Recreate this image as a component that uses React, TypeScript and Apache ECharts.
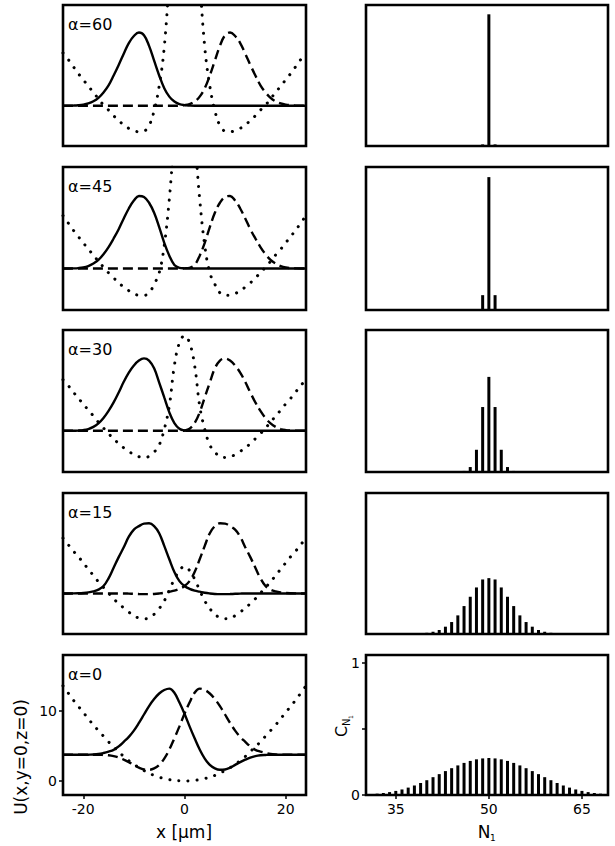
import React, { useEffect, useRef } from "react";
import * as echarts from "echarts";

// ---------- data ----------
const xPositions = [
  -24, -23, -22, -21, -20, -19, -18, -17, -16, -15, -14, -13, -12, -11, -10, -9, -8, -7, -6, -5, -4, -3, -2, -1, 0,
  1, 2, 3, 4, 5, 6, 7, 8, 9, 10, 11, 12, 13, 14, 15, 16, 17, 18, 19, 20, 21, 22, 23, 24,
];

const alphaLabels = ["α=60", "α=45", "α=30", "α=15", "α=0"];

// dotted: potential U(x)
const potential60 = [
  11.2, 10.3, 9.3, 8.3, 7.4, 6.5, 5.6, 4.7, 3.8, 3.1, 2.3, 1.6, 1.0, 0.5, 0.2, 0.0, 0.1, 0.9, 3.0, 6.5, 12, 22, 35, 45, 50,
  45, 35, 22, 12, 6.5, 3.0, 0.9, 0.1, 0.0, 0.2, 0.5, 1.0, 1.6, 2.3, 3.1, 3.8, 4.7, 5.6, 6.5, 7.4, 8.3, 9.3, 10.3, 11.2,
];
const potential45 = [
  11.2, 10.2, 9.2, 8.3, 7.4, 6.5, 5.7, 4.8, 4.0, 3.2, 2.5, 1.8, 1.2, 0.7, 0.3, 0.05, 0.05, 0.4, 1.6, 3.2, 7.0, 13.5, 22, 28, 30,
  28, 22, 13.5, 7.0, 3.2, 1.6, 0.4, 0.05, 0.05, 0.3, 0.7, 1.2, 1.8, 2.5, 3.2, 4.0, 4.8, 5.7, 6.5, 7.4, 8.3, 9.2, 10.2, 11.2,
];
const potential30 = [
  11.0, 10.2, 9.3, 8.4, 7.6, 6.7, 5.9, 5.0, 4.2, 3.4, 2.7, 2.0, 1.4, 0.9, 0.45, 0.15, 0.05, 0.2, 0.8, 1.8, 4.0, 7.3, 13.0, 16.2, 17.2,
  16.2, 13.0, 7.3, 4.0, 1.8, 0.8, 0.2, 0.05, 0.15, 0.45, 0.9, 1.4, 2.0, 2.7, 3.4, 4.2, 5.0, 5.9, 6.7, 7.6, 8.4, 9.3, 10.2, 11.0,
];
const potential15 = [
  11.6, 10.7, 9.8, 9.0, 8.1, 7.2, 6.3, 5.4, 4.6, 3.8, 3.0, 2.3, 1.7, 1.1, 0.6, 0.25, 0.15, 0.3, 0.8, 1.6, 2.7, 4.2, 5.8, 7.0, 7.6,
  7.0, 5.8, 4.2, 2.7, 1.6, 0.8, 0.3, 0.15, 0.25, 0.6, 1.1, 1.7, 2.3, 3.0, 3.8, 4.6, 5.4, 6.3, 7.2, 8.1, 9.0, 9.8, 10.7, 11.6,
];
const potential0 = [
  13.6, 12.6, 11.6, 10.7, 9.8, 8.9, 8.0, 7.2, 6.4, 5.6, 4.9, 4.2, 3.5, 2.9, 2.4, 1.9, 1.5, 1.1, 0.8, 0.55, 0.35, 0.2, 0.1, 0.03, 0,
  0.03, 0.1, 0.2, 0.35, 0.55, 0.8, 1.1, 1.5, 1.9, 2.4, 2.9, 3.5, 4.2, 4.9, 5.6, 6.4, 7.2, 8.0, 8.9, 9.8, 10.7, 11.6, 12.6, 13.6,
];

// solid: left mode
const solid60 = [
  3.7, 3.7, 3.73, 3.78, 3.87, 4.04, 4.34, 4.84, 5.6, 6.6, 8.0, 9.5, 11.1, 12.6, 13.6, 14.1, 13.7, 12.2, 10.1, 8.0, 6.2, 5.0, 4.3, 3.94, 3.79,
  3.73, 3.7, 3.7, 3.7, 3.7, 3.7, 3.7, 3.7, 3.7, 3.7, 3.7, 3.7, 3.7, 3.7, 3.7, 3.7, 3.7, 3.7, 3.7, 3.7, 3.7, 3.7, 3.7, 3.7,
];
const solid45 = [
  3.8, 3.8, 3.82, 3.86, 3.95, 4.15, 4.5, 5.0, 5.8, 6.8, 8.0, 9.3, 10.8, 12.2, 13.3, 13.95, 13.8, 13.0, 11.6, 9.6, 7.4, 5.6, 4.3, 3.9, 3.82,
  3.8, 3.8, 3.8, 3.8, 3.8, 3.8, 3.8, 3.8, 3.8, 3.8, 3.8, 3.8, 3.8, 3.8, 3.8, 3.8, 3.8, 3.8, 3.8, 3.8, 3.8, 3.8, 3.8, 3.8,
];
const solid30 = [
  3.8, 3.8, 3.8, 3.83, 3.9, 4.05, 4.35, 4.85, 5.6, 6.6, 7.8, 9.2, 10.7, 12.0, 13.0, 13.7, 14.0, 13.7, 12.6, 10.6, 8.5, 6.4, 4.9, 4.1, 3.85,
  3.8, 3.8, 3.8, 3.8, 3.8, 3.8, 3.8, 3.8, 3.8, 3.8, 3.8, 3.8, 3.8, 3.8, 3.8, 3.8, 3.8, 3.8, 3.8, 3.8, 3.8, 3.8, 3.8, 3.8,
];
const solid15 = [
  3.75, 3.75, 3.76, 3.78, 3.82, 3.9, 4.05, 4.3, 4.8, 5.9, 7.4, 8.9, 10.3, 11.8, 12.8, 13.3, 13.65, 13.7, 13.3, 12.3, 10.5, 8.6, 6.8, 5.5, 4.8,
  4.4, 4.15, 4.0, 3.85, 3.75, 3.68, 3.65, 3.65, 3.67, 3.7, 3.73, 3.75, 3.75, 3.75, 3.75, 3.75, 3.75, 3.75, 3.75, 3.75, 3.75, 3.75, 3.75, 3.75,
];
const solid0 = [
  3.75, 3.75, 3.75, 3.75, 3.75, 3.76, 3.78, 3.85, 4.0, 4.2, 4.45, 4.95, 5.6, 6.3, 7.2, 8.3, 9.5, 10.7, 11.7, 12.5, 13.0, 13.2, 12.6, 11.2, 9.6,
  7.8, 6.1, 4.5, 3.2, 2.3, 1.8, 1.6, 1.65, 1.9, 2.3, 2.7, 3.05, 3.35, 3.55, 3.67, 3.72, 3.75, 3.75, 3.75, 3.75, 3.75, 3.75, 3.75, 3.75,
];

// dashed: right mode
const dashed60 = [
  3.7, 3.7, 3.7, 3.7, 3.7, 3.7, 3.7, 3.7, 3.7, 3.7, 3.7, 3.7, 3.7, 3.7, 3.7, 3.7, 3.7, 3.7, 3.7, 3.7, 3.7, 3.7, 3.7, 3.73, 3.79,
  3.94, 4.3, 5.0, 6.2, 8.0, 10.1, 12.2, 13.7, 14.1, 13.6, 12.6, 11.1, 9.5, 8.0, 6.6, 5.6, 4.84, 4.34, 4.04, 3.87, 3.78, 3.73, 3.7, 3.7,
];
const dashed45 = [
  3.8, 3.8, 3.8, 3.8, 3.8, 3.8, 3.8, 3.8, 3.8, 3.8, 3.8, 3.8, 3.8, 3.8, 3.8, 3.8, 3.8, 3.8, 3.8, 3.8, 3.8, 3.8, 3.8, 3.8, 3.82,
  3.9, 4.3, 5.6, 7.4, 9.6, 11.6, 13.0, 13.8, 13.95, 13.3, 12.2, 10.8, 9.3, 8.0, 6.8, 5.8, 5.0, 4.5, 4.15, 3.95, 3.86, 3.82, 3.8, 3.8,
];
const dashed30 = [
  3.8, 3.8, 3.8, 3.8, 3.8, 3.8, 3.8, 3.8, 3.8, 3.8, 3.8, 3.8, 3.8, 3.8, 3.8, 3.8, 3.8, 3.8, 3.8, 3.8, 3.8, 3.8, 3.8, 3.8, 3.85,
  4.1, 4.9, 6.4, 8.5, 10.6, 12.6, 13.7, 14.0, 13.7, 13.0, 12.0, 10.7, 9.2, 7.8, 6.6, 5.6, 4.85, 4.35, 4.05, 3.9, 3.83, 3.8, 3.8, 3.8,
];
const dashed15 = [
  3.75, 3.75, 3.75, 3.75, 3.75, 3.75, 3.75, 3.75, 3.75, 3.75, 3.75, 3.75, 3.75, 3.73, 3.7, 3.67, 3.65, 3.65, 3.68, 3.75, 3.85, 4.0, 4.15, 4.4, 4.8,
  5.5, 6.8, 8.6, 10.5, 12.3, 13.3, 13.7, 13.65, 13.3, 12.8, 11.8, 10.3, 8.9, 7.4, 5.9, 4.8, 4.3, 4.05, 3.9, 3.82, 3.78, 3.76, 3.75, 3.75,
];
const dashed0 = [
  3.75, 3.75, 3.75, 3.75, 3.75, 3.75, 3.75, 3.75, 3.72, 3.67, 3.55, 3.35, 3.05, 2.7, 2.3, 1.9, 1.65, 1.6, 1.8, 2.3, 3.2, 4.5, 6.1, 7.8, 9.6,
  11.2, 12.6, 13.2, 13.0, 12.5, 11.7, 10.7, 9.5, 8.3, 7.2, 6.3, 5.6, 4.95, 4.45, 4.2, 4.0, 3.85, 3.78, 3.76, 3.75, 3.75, 3.75, 3.75, 3.75,
];

// right column: occupation amplitudes C_N1
const nValues = [
  31, 32, 33, 34, 35, 36, 37, 38, 39, 40, 41, 42, 43, 44, 45, 46, 47, 48, 49, 50,
  51, 52, 53, 54, 55, 56, 57, 58, 59, 60, 61, 62, 63, 64, 65, 66, 67, 68, 69,
];
const c60 = [
  0, 0, 0, 0, 0, 0, 0, 0, 0, 0, 0, 0, 0, 0, 0, 0, 0, 0, 0.012, 0.99,
  0.012, 0, 0, 0, 0, 0, 0, 0, 0, 0, 0, 0, 0, 0, 0, 0, 0, 0, 0,
];
const c45 = [
  0, 0, 0, 0, 0, 0, 0, 0, 0, 0, 0, 0, 0, 0, 0, 0, 0, 0.004, 0.11, 0.985,
  0.11, 0.004, 0, 0, 0, 0, 0, 0, 0, 0, 0, 0, 0, 0, 0, 0, 0, 0, 0,
];
const c30 = [
  0, 0, 0, 0, 0, 0, 0, 0, 0, 0, 0, 0, 0, 0, 0, 0.008, 0.037, 0.166, 0.485, 0.71,
  0.485, 0.166, 0.037, 0.008, 0, 0, 0, 0, 0, 0, 0, 0, 0, 0, 0, 0, 0, 0, 0,
];
const c15 = [
  0, 0, 0, 0, 0, 0, 0, 0.002, 0.004, 0.009, 0.017, 0.03, 0.055, 0.09, 0.14, 0.21, 0.28, 0.35, 0.41, 0.42,
  0.41, 0.35, 0.28, 0.21, 0.14, 0.09, 0.055, 0.03, 0.017, 0.009, 0.004, 0.002, 0, 0, 0, 0, 0, 0, 0,
];
const c0 = [
  0.007, 0.01, 0.015, 0.022, 0.031, 0.042, 0.056, 0.072, 0.091, 0.112, 0.135, 0.158, 0.181, 0.203, 0.224, 0.243, 0.258, 0.27, 0.277, 0.28,
  0.277, 0.27, 0.258, 0.243, 0.224, 0.203, 0.181, 0.158, 0.135, 0.112, 0.091, 0.072, 0.056, 0.042, 0.031, 0.022, 0.015, 0.01, 0.007,
];

const xTickValues = [-20, 0, 20];
const uTickValues = [0, 10];
const nTickValues = [35, 50, 65];
const cTickValues = [0, 0.5, 1];
const cLabelValues = [0, 1];

const potentials = [potential60, potential45, potential30, potential15, potential0];
const solids = [solid60, solid45, solid30, solid15, solid0];
const dashes = [dashed60, dashed45, dashed30, dashed15, dashed0];
const amplitudes = [c60, c45, c30, c15, c0];

// ---------- layout ----------
const rowTops = [5, 167, 330, 493, 655];
const rowHeights = [141, 143, 142, 141, 140];
const leftX = 63;
const leftW = 243;
const rightX = 366;
const rightW = 242;
const FONT = "DejaVu Sans, Liberation Sans, Arial, sans-serif";

function txt(text: string, x: number, y: number, size: number, align = "center", extra: any = {}) {
  return {
    type: "text", x, y, ...extra,
    style: {
      text, fill: "#000", fontSize: size, fontFamily: FONT,
      align, verticalAlign: "middle", textAlign: align, textVerticalAlign: "middle",
    },
  };
}

function buildOption() {
  const grid: any[] = [];
  const xAxis: any[] = [];
  const yAxis: any[] = [];
  const series: any[] = [];
  const graphic: any[] = [];

  for (let i = 0; i < 5; i++) {
    const last = i === 4;
    grid.push({
      left: leftX, top: rowTops[i], width: leftW, height: rowHeights[i],
      show: true, borderColor: "#000", borderWidth: 2.6, backgroundColor: "transparent",
    });
    grid.push({
      left: rightX, top: rowTops[i], width: rightW, height: rowHeights[i],
      show: true, borderColor: "#000", borderWidth: 2.6, backgroundColor: "transparent",
    });
    const tickStyle = { color: "#000", width: 1.5 };
    const labelStyle = { color: "#000", fontSize: 14, fontFamily: FONT };
    const hiddenLine = { show: false, onZero: false };
    xAxis.push({
      gridIndex: 2 * i, type: "value", min: -24, max: 24, position: "bottom",
      axisLine: hiddenLine, splitLine: { show: false },
      axisTick: { show: last, customValues: xTickValues, length: 4, lineStyle: tickStyle },
      axisLabel: { show: last, customValues: xTickValues, margin: 7, ...labelStyle },
    });
    yAxis.push({
      gridIndex: 2 * i, type: "value", min: -2, max: 18, position: "left",
      axisLine: hiddenLine, splitLine: { show: false },
      axisTick: { show: last, customValues: uTickValues, length: 4, lineStyle: tickStyle },
      axisLabel: { show: last, customValues: uTickValues, margin: 6, ...labelStyle },
    });
    xAxis.push({
      gridIndex: 2 * i + 1, type: "value", min: 30.2, max: 69.2, position: "bottom",
      axisLine: hiddenLine, splitLine: { show: false },
      axisTick: { show: last, customValues: nTickValues, length: 4, lineStyle: tickStyle },
      axisLabel: { show: last, customValues: nTickValues, margin: 7, ...labelStyle },
    });
    yAxis.push({
      gridIndex: 2 * i + 1, type: "value", min: 0, max: 1.06, position: "left",
      axisLine: hiddenLine, splitLine: { show: false },
      axisTick: { show: last, customValues: cTickValues, length: 4, lineStyle: tickStyle },
      axisLabel: { show: last, customValues: cLabelValues, margin: 6, ...labelStyle },
    });

    const toPts = (arr: number[]) => xPositions.map((x, j) => [x, arr[j]]);
    series.push({
      type: "line", xAxisIndex: 2 * i, yAxisIndex: 2 * i, data: toPts(potentials[i]),
      symbol: "none", smooth: 0.4, clip: true, z: 2,
      lineStyle: { color: "#000", width: 3, type: [0.1, 9], cap: "round" },
    });
    series.push({
      type: "line", xAxisIndex: 2 * i, yAxisIndex: 2 * i, data: toPts(dashes[i]),
      symbol: "none", smooth: 0.4, clip: true, z: 3,
      lineStyle: { color: "#000", width: 2.4, type: [10, 5] },
    });
    series.push({
      type: "line", xAxisIndex: 2 * i, yAxisIndex: 2 * i, data: toPts(solids[i]),
      symbol: "none", smooth: 0.4, clip: true, z: 4,
      lineStyle: { color: "#000", width: 2.4 },
    });
    series.push({
      type: "bar", xAxisIndex: 2 * i + 1, yAxisIndex: 2 * i + 1,
      data: nValues.map((n, j) => [n, amplitudes[i][j]]),
      barWidth: 3, itemStyle: { color: "#000" },
    });

    graphic.push(txt(alphaLabels[i], 68, rowTops[i] + 19, 16, "left"));
  }

  // axis titles
  graphic.push(txt("x [µm]", 184, 832, 17));
  graphic.push(txt("U(x,y=0,z=0)", 21, 757, 17, "center", { rotation: Math.PI / 2 }));
  graphic.push({
    type: "group", x: 484, y: 832,
    children: [txt("N", 0, 0, 17, "center"), txt("1", 6, 6, 9, "left")],
  });
  graphic.push({
    type: "group", x: 341, y: 737, rotation: Math.PI / 2,
    children: [txt("C", 0, 0, 16, "left"), txt("N", 11, 5, 10, "left"), txt("1", 18, 9, 6, "left")],
  });

  return { animation: false, backgroundColor: "#fff", grid, xAxis, yAxis, series, graphic };
}

export default function App() {
  const ref = useRef<HTMLDivElement>(null);
  useEffect(() => {
    if (!ref.current) return;
    const chart = echarts.init(ref.current, null, { renderer: "svg" });
    chart.setOption(buildOption() as any);
    return () => chart.dispose();
  }, []);
  return (
    <div
      ref={ref}
      style={{ position: "fixed", left: 0, top: 0, width: 615, height: 846, background: "#fff" }}
    />
  );
}
